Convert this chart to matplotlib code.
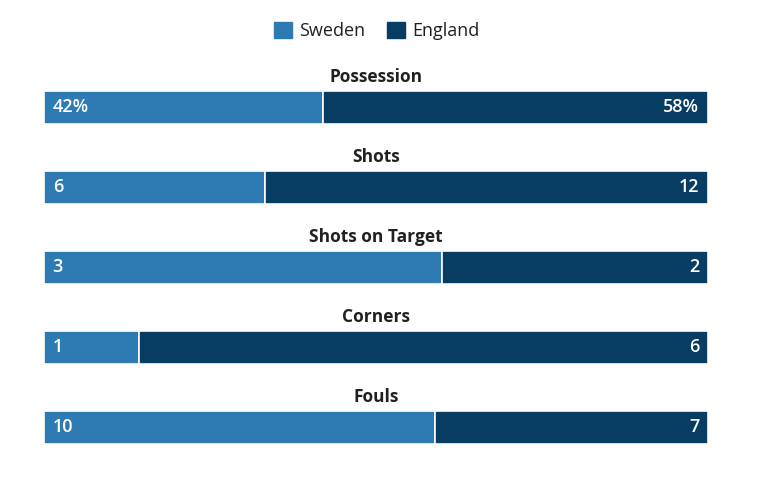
import matplotlib.pyplot as plt
from matplotlib.patches import Patch

plt.rcParams['font.family'] = ['Open Sans', 'DejaVu Sans']

stats = ['Possession', 'Shots', 'Shots on Target', 'Corners', 'Fouls']
sweden = [42, 6, 3, 1, 10]
england = [58, 12, 2, 6, 7]
suffix = ['%', '', '', '', '']

c_swe = '#2e7bb4'
c_eng = '#083d63'

fig = plt.figure(figsize=(7.68, 4.84), dpi=100)
ax = fig.add_axes([44/768, 1 - 460/484, 664/768, 416/484])

for i, name in enumerate(stats):
    tot = sweden[i] + england[i]
    fs = sweden[i] / tot
    fe = england[i] / tot
    ax.barh(i, fs, left=0, height=0.42, color=c_swe, edgecolor='white', linewidth=1.2)
    ax.barh(i, fe, left=fs, height=0.42, color=c_eng, edgecolor='white', linewidth=1.2)
    ax.text(0.5, i - 0.385, name, ha='center', va='center', fontsize=12.5,
            fontweight='bold', color='#202020')
    ax.text(0.013, i, f'{sweden[i]}{suffix[i]}', ha='left', va='center',
            fontsize=13, fontweight='semibold', color='white')
    ax.text(0.987, i, f'{england[i]}{suffix[i]}', ha='right', va='center',
            fontsize=13, fontweight='semibold', color='white')

ax.set_xlim(0, 1)
ax.set_ylim(4.40625, -0.79375)
ax.axis('off')

handles = [Patch(color=c_swe, label='Sweden'), Patch(color=c_eng, label='England')]
fig.legend(handles=handles, loc='center', bbox_to_anchor=(0.49, 1 - 31/484), ncol=2,
           frameon=False, fontsize=13, handlelength=1.0, handleheight=1.0,
           handletextpad=0.4, columnspacing=1.2, labelcolor='#202020')

fig.savefig('out.png', dpi=100)
